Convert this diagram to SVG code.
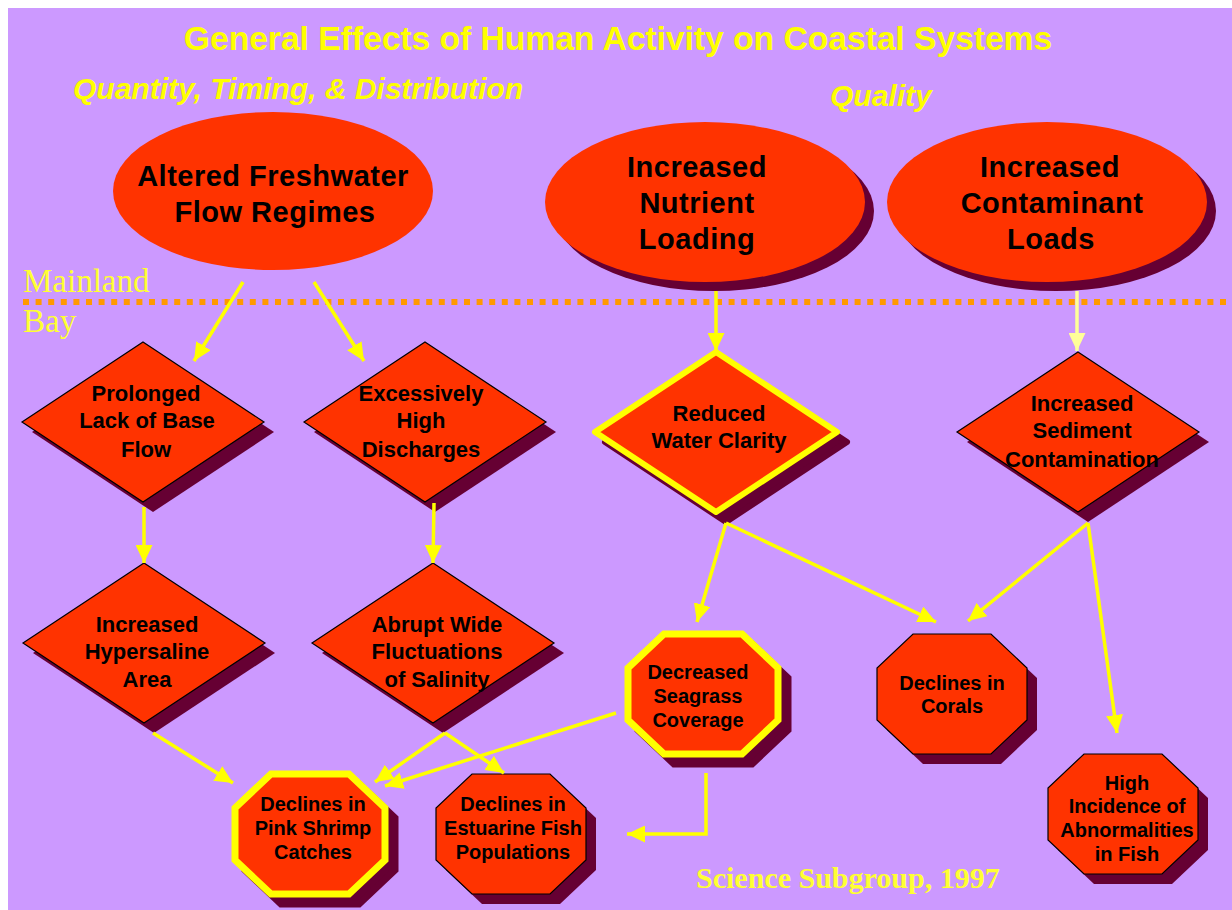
<svg xmlns="http://www.w3.org/2000/svg" width="1232" height="910" viewBox="0 0 1232 910">
<style>
.sh{fill:#660033}
.shy{fill:#660033;stroke:#660033;stroke-width:7;stroke-linejoin:miter}
.shr{fill:#660033;stroke:#660033;stroke-width:6;stroke-linejoin:round}
.nd{fill:#FF3300;stroke:#000;stroke-width:1.2}
.ndy{fill:#FF3300;stroke:#FFFF00;stroke-width:7}
.ndr{fill:#FF3300;stroke:#FFFF00;stroke-width:6;stroke-linejoin:round}
.el{fill:#FF3300}
.t{font-family:"Liberation Sans",Arial,sans-serif;font-weight:bold;fill:#000;text-anchor:middle}
.te{font-size:29px;letter-spacing:0.5px}
.td{font-size:22px}
.to{font-size:20px}
.c{stroke:#FFFF00;stroke-width:3.5;fill:none;marker-end:url(#ah)}
.cp{stroke:#FFFF99;stroke-width:3.5;fill:none;marker-end:url(#ahp)}
.hdr{font-family:"Liberation Sans",Arial,sans-serif;font-weight:bold;fill:#FFFF00}
.ser{font-family:"Liberation Serif","Times New Roman",serif;fill:#FFFF33}
</style>
<defs>
<marker id="ah" viewBox="0 0 18 17" refX="18" refY="8.5" markerWidth="18" markerHeight="17" markerUnits="userSpaceOnUse" orient="auto"><path d="M0,0 L18,8.5 L0,17 z" fill="#FFFF00"/></marker>
<marker id="ahp" viewBox="0 0 18 17" refX="18" refY="8.5" markerWidth="18" markerHeight="17" markerUnits="userSpaceOnUse" orient="auto"><path d="M0,0 L18,8.5 L0,17 z" fill="#FFFF99"/></marker>
<polygon id="dia" points="0,-80 121,0 0,80 -121,0"/>
<polygon id="oct" points="-39,-60 39,-60 75,-26 75,26 39,60 -39,60 -75,26 -75,-26"/>
</defs>
<rect x="0" y="0" width="1232" height="910" fill="#FFFFFF"/>
<rect x="8" y="8" width="1224" height="902" fill="#CC99FF"/>
<text class="hdr" x="618" y="50" font-size="33.6" text-anchor="middle">General Effects of Human Activity on Coastal Systems</text>
<text class="hdr" x="73" y="99" font-size="30" font-style="italic">Quantity, Timing, &amp; Distribution</text>
<text class="hdr" x="830" y="106" font-size="30" font-style="italic">Quality</text>
<text class="ser" x="23" y="292" font-size="33">Mainland</text>
<text class="ser" x="23" y="332" font-size="33">Bay</text>
<line x1="23" y1="302" x2="1228" y2="302" stroke="#FF9900" stroke-width="6" stroke-dasharray="6 6.6"/>
<text class="ser" x="696" y="888" font-size="30" font-weight="bold" fill="#FFFF4D">Science Subgroup, 1997</text>

<g id="n-freshwater">
<ellipse class="el" cx="273" cy="191" rx="160" ry="79"/>
<text class="t te" x="273" y="186">Altered Freshwater</text>
<text class="t te" x="275" y="222">Flow Regimes</text>
</g>
<g id="n-nutrient">
<ellipse class="sh" cx="714" cy="211" rx="160" ry="80"/>
<ellipse class="el" cx="705" cy="202" rx="160" ry="80"/>
<text class="t te" x="697" y="177">Increased</text>
<text class="t te" x="697" y="213">Nutrient</text>
<text class="t te" x="697" y="249">Loading</text>
</g>
<g id="n-contaminant">
<ellipse class="sh" cx="1056" cy="211" rx="160" ry="80"/>
<ellipse class="el" cx="1047" cy="202" rx="160" ry="80"/>
<text class="t te" x="1050" y="177">Increased</text>
<text class="t te" x="1052" y="213">Contaminant</text>
<text class="t te" x="1051" y="249">Loads</text>
</g>

<g id="n-baseflow">
<use href="#dia" class="sh" x="153" y="432"/>
<use href="#dia" class="nd" x="143" y="422"/>
<text class="t td" x="146" y="401">Prolonged</text>
<text class="t td" x="147" y="428">Lack of Base</text>
<text class="t td" x="146" y="457">Flow</text>
</g>
<g id="n-discharges">
<use href="#dia" class="sh" x="435" y="432"/>
<use href="#dia" class="nd" x="425" y="422"/>
<text class="t td" x="421" y="401">Excessively</text>
<text class="t td" x="421" y="428">High</text>
<text class="t td" x="421" y="457">Discharges</text>
</g>
<g id="n-clarity">
<use href="#dia" class="shr" x="726" y="442"/>
<use href="#dia" class="ndr" x="716" y="432"/>
<text class="t td" x="719" y="421">Reduced</text>
<text class="t td" x="719" y="448">Water Clarity</text>
</g>
<g id="n-sediment">
<use href="#dia" class="sh" x="1088" y="442"/>
<use href="#dia" class="nd" x="1078" y="432"/>
<text class="t td" x="1082" y="411">Increased</text>
<text class="t td" x="1082" y="438">Sediment</text>
<text class="t td" x="1082" y="467">Contamination</text>
</g>
<g id="n-hypersaline">
<use href="#dia" class="sh" x="154" y="653"/>
<use href="#dia" class="nd" x="144" y="643"/>
<text class="t td" x="147" y="632">Increased</text>
<text class="t td" x="147" y="659">Hypersaline</text>
<text class="t td" x="147" y="687">Area</text>
</g>
<g id="n-salinity">
<use href="#dia" class="sh" x="443" y="653"/>
<use href="#dia" class="nd" x="433" y="643"/>
<text class="t td" x="437" y="632">Abrupt Wide</text>
<text class="t td" x="437" y="659">Fluctuations</text>
<text class="t td" x="437" y="687">of Salinity</text>
</g>

<g id="n-seagrass">
<use href="#oct" class="shy" x="713" y="704"/>
<use href="#oct" class="ndy" x="703" y="694"/>
<text class="t to" x="698" y="679">Decreased</text>
<text class="t to" x="698" y="703">Seagrass</text>
<text class="t to" x="698" y="727">Coverage</text>
</g>
<g id="n-corals">
<use href="#oct" class="sh" x="962" y="704"/>
<use href="#oct" class="nd" x="952" y="694"/>
<text class="t to" x="952" y="690">Declines in</text>
<text class="t to" x="952" y="713">Corals</text>
</g>
<g id="n-abnormal">
<use href="#oct" class="sh" x="1133" y="824"/>
<use href="#oct" class="nd" x="1123" y="814"/>
<text class="t to" x="1127" y="790">High</text>
<text class="t to" x="1127" y="813">Incidence of</text>
<text class="t to" x="1127" y="837">Abnormalities</text>
<text class="t to" x="1127" y="861">in Fish</text>
</g>
<g id="n-shrimp">
<use href="#oct" class="shy" x="320" y="844"/>
<use href="#oct" class="ndy" x="310" y="834"/>
<text class="t to" x="313" y="811">Declines in</text>
<text class="t to" x="313" y="835">Pink Shrimp</text>
<text class="t to" x="313" y="859">Catches</text>
</g>
<g id="n-estuarine">
<use href="#oct" class="sh" x="521" y="844"/>
<use href="#oct" class="nd" x="511" y="834"/>
<text class="t to" x="513" y="811">Declines in</text>
<text class="t to" x="513" y="835">Estuarine Fish</text>
<text class="t to" x="513" y="859">Populations</text>
</g>

<g id="connectors">
<path class="c" d="M243,282 L194,361"/>
<path class="c" d="M314,282 L364,361"/>
<path class="c" d="M716,291 L716,351"/>
<path class="cp" d="M1077,291 L1077,351"/>
<path class="c" d="M144,507 L144,563"/>
<path class="c" d="M434,503 L433,563"/>
<path class="c" d="M726,523 L697,622"/>
<path class="c" d="M726,523 L936,622"/>
<path class="c" d="M1088,523 L968,621"/>
<path class="c" d="M1088,523 L1117,733"/>
<path class="c" d="M153,733 L233,783"/>
<path class="c" d="M445,733 L375,782"/>
<path class="c" d="M445,733 L504,773"/>
<path class="c" d="M616,713 L385,786"/>
<path class="c" d="M706,773 L706,834 L627,834"/>
</g>
</svg>
